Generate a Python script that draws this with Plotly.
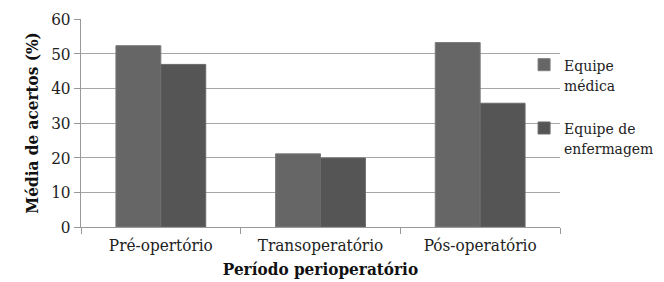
import plotly.graph_objects as go

categories = ["Pré-opertório", "Transoperatório", "Pós-operatório"]
medica = [52.3, 21.1, 53.2]
enfermagem = [46.9, 19.9, 35.7]
series_names = ["Equipe<br>médica", "Equipe de<br>enfermagem"]

FONT = "DejaVu Serif Condensed, DejaVu Serif"

fig = go.Figure()
fig.add_trace(go.Bar(x=categories, y=medica, name=series_names[0], legendgroup="a",
                     marker=dict(color="#666666", line=dict(color="#7a7a7a", width=1))))
fig.add_trace(go.Bar(x=categories, y=enfermagem, name=series_names[1], legendgroup="b",
                     marker=dict(color="#555555", line=dict(color="#6a6a6a", width=1))))

fig.update_layout(
    width=656, height=274,
    margin=dict(l=73, r=104, t=11, b=55, autoexpand=False),
    paper_bgcolor="white", plot_bgcolor="white",
    font=dict(family=FONT, size=17, color="#222222"),
    barmode="group", bargap=0.4375, bargroupgap=0,
    showlegend=True,
    legend=dict(x=0.925, xanchor="left", y=0.86, yanchor="top",
                bgcolor="rgba(0,0,0,0)", valign="top",
                font=dict(family=FONT, size=15.5, color="#222222"),
                tracegroupgap=20, traceorder="grouped"),
    xaxis=dict(
        type="category", showline=True, linecolor="#999999", linewidth=1,
        ticks="outside", tickson="boundaries", ticklen=6, tickcolor="#999999",
        ticklabelstandoff=3,
        showgrid=False, automargin=False,
        title=dict(text="<b>Período perioperatório</b>", standoff=8,
                   font=dict(family=FONT, size=17, color="#111111")),
    ),
    yaxis=dict(
        range=[0, 60], dtick=10, showline=True, linecolor="#999999", linewidth=1,
        ticks="outside", ticklen=6, tickcolor="#999999", automargin=False,
        showgrid=True, gridcolor="#a6a6a6", gridwidth=1, zeroline=False,
        title=dict(text="<b>Média de acertos (%)</b>", standoff=8,
                   font=dict(family=FONT, size=17, color="#111111")),
    ),
)

fig.write_html("out.html")
